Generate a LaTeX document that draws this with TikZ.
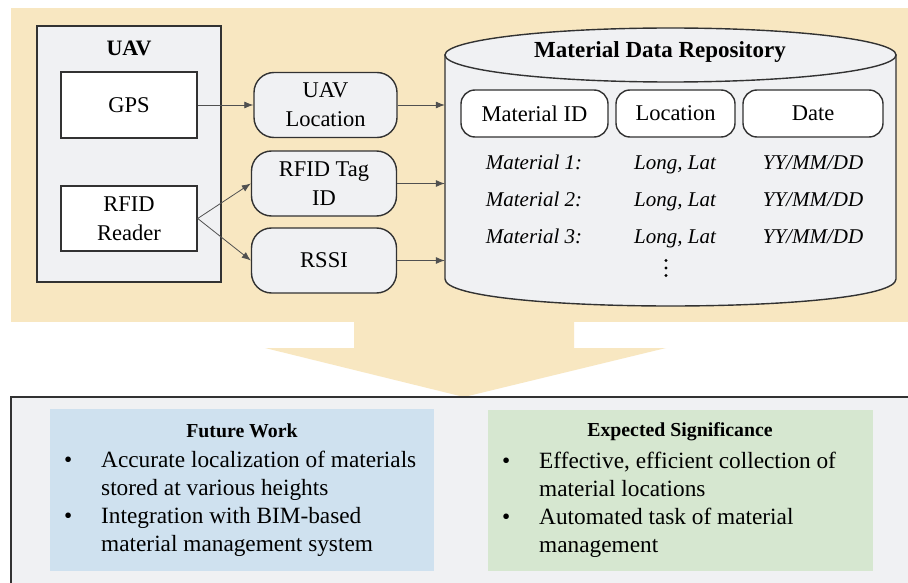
\documentclass[tikz,border=0pt]{standalone}
\usepackage{fontspec}
\setmainfont{Liberation Serif}
\usetikzlibrary{arrows.meta}
\definecolor{beige}{RGB}{248,231,193}
\definecolor{panel}{RGB}{240,241,243}
\definecolor{edge}{RGB}{50,50,50}
\definecolor{lblue}{RGB}{207,225,239}
\definecolor{lgreen}{RGB}{214,231,208}
\definecolor{arr}{RGB}{80,80,80}
\begin{document}
\begin{tikzpicture}[x=1pt,y=-1pt,
  lbl/.style={font=\fontsize{22.5}{29}\selectfont, align=center},
  plainbox/.style={lbl, draw=edge, line width=1.4pt, fill=white, minimum width=136pt, minimum height=66pt, inner sep=0pt},
  roundbox/.style={lbl, draw=edge, line width=1.4pt, fill=panel, rounded corners=20pt, minimum width=145pt, minimum height=65pt, inner sep=0pt},
  headbox/.style={lbl, draw=edge, line width=1.4pt, fill=white, rounded corners=14pt, minimum height=47pt, inner sep=0pt},
  rowtxt/.style={font=\fontsize{21}{24}\selectfont\itshape, anchor=base},
  conn/.style={draw=arr, line width=0.8pt, -{Latex[length=9pt,width=7pt]}},
  btxt/.style={font=\fontsize{23.3}{28}\selectfont, anchor=base west, inner sep=0pt},
  bhead/.style={font=\fontsize{19.8}{22}\selectfont\bfseries}
]
\useasboundingbox (0,0) rectangle (908,583);
\fill[white] (0,0) rectangle (908,583);
% top beige panel
\fill[beige] (11,8) rectangle (908,322);
% big down arrow
\fill[beige] (354,321) -- (574,321) -- (574,348) -- (666,348) -- (464,397) -- (265,348) -- (354,348) -- cycle;
% bottom panel
\fill[panel] (11,397) rectangle (908,583);
\draw[edge, line width=1.5pt] (11,583) -- (11,397) -- (908,397);

% UAV container
\node[draw=edge, line width=1.4pt, fill=panel, minimum width=184pt, minimum height=256pt, inner sep=0pt] (uav) at (129,154) {};
\node[font=\fontsize{22}{26}\selectfont\bfseries] (uavtitle) at (129,48) {UAV};
\node[plainbox] (gps) at (129,105) {GPS};
\node[plainbox, minimum height=65pt] (rfid) at (129,218.5) {RFID\\Reader};

% middle boxes
\node[roundbox, minimum width=143pt] (uavloc) at (325.5,105) {UAV\\Location};
\node[roundbox] (tagid) at (324,183.5) {RFID Tag\\ID};
\node[roundbox] (rssi) at (324,260.5) {RSSI};

% repository cylinder
\path[fill=panel, draw=edge, line width=1.4pt]
  (445,55) -- (445,279) .. controls (445,315) and (896,315) .. (896,279) -- (896,55) -- cycle;
\draw[fill=panel, draw=edge, line width=1.4pt] (670.5,55) ellipse [x radius=225.5, y radius=27];
\node[minimum width=451pt, minimum height=224pt, inner sep=0pt] (repo) at (670.5,167) {};
\node[font=\fontsize{23}{26}\selectfont\bfseries] (repotitle) at (660,52) {Material Data Repository};

\node[headbox, minimum width=147pt] (hid) at (534.5,113.5) {Material ID};
\node[headbox, minimum width=119pt] (hloc) at (675.5,113.5) {Location};
\node[headbox, minimum width=140pt] (hdate) at (813,113.5) {Date};

\node[rowtxt] (m1) at (534,170) {Material 1:};
\node[rowtxt] (l1) at (675,170) {Long, Lat};
\node[rowtxt] (d1) at (813,170) {YY/MM/DD};
\node[rowtxt] (m2) at (534,206) {Material 2:};
\node[rowtxt] (l2) at (675,206) {Long, Lat};
\node[rowtxt] (d2) at (813,206) {YY/MM/DD};
\node[rowtxt] (m3) at (534,243) {Material 3:};
\node[rowtxt] (l3) at (675,243) {Long, Lat};
\node[rowtxt] (d3) at (813,243) {YY/MM/DD};
\fill[black] (666,260.5) circle (1.7) (666,268) circle (1.7) (666,275.5) circle (1.7);

% connectors
\draw[conn] (gps.east) -- (uavloc.west);
\draw[conn] (rfid.east) -- (tagid.west);
\draw[conn] (rfid.east) -- (rssi.west);
\draw[conn] (uavloc.east) -- (uavloc.east -| repo.west);
\draw[conn] (tagid.east) -- (tagid.east -| repo.west);
\draw[conn] (rssi.east) -- (rssi.east -| repo.west);

% bottom boxes
\fill[lblue] (50,409) rectangle (434,571);
\fill[lgreen] (488,410) rectangle (873,571);

\node[bhead] (fw) at (242,431) {Future Work};
\node[btxt] (fb1) at (64,467) {•};
\node[btxt] (f1a) at (101,467) {Accurate localization of materials};
\node[btxt] (f1b) at (101,495) {stored at various heights};
\node[btxt] (fb2) at (64,523) {•};
\node[btxt] (f2a) at (101,523) {Integration with BIM-based};
\node[btxt] (f2b) at (101,551) {material management system};

\node[bhead] (es) at (680,432) {Expected Significance};
\node[btxt] (eb1) at (502,468) {•};
\node[btxt] (e1a) at (539,468) {Effective, efficient collection of};
\node[btxt] (e1b) at (539,496) {material locations};
\node[btxt] (eb2) at (502,524) {•};
\node[btxt] (e2a) at (539,524) {Automated task of material};
\node[btxt] (e2b) at (539,552) {management};
\end{tikzpicture}
\end{document}
